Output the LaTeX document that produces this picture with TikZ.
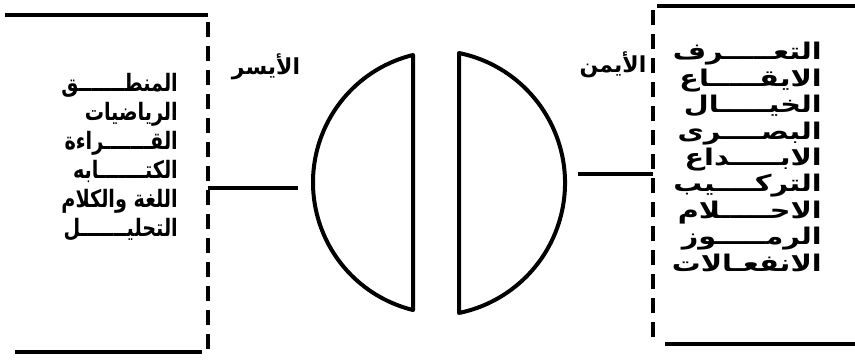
\documentclass[tikz,border=0pt]{standalone}
\usepackage{fontspec}
\newfontfamily\arabicfont[Script=Arabic]{DejaVu Sans}
\newfontfamily\arabicL[Script=Arabic,FakeStretch=0.8]{DejaVu Sans}
\newfontfamily\arabicR[Script=Arabic,FakeStretch=1.25]{DejaVu Sans}
\TeXXeTstate=1
\begin{document}
\begin{tikzpicture}[x=1pt,y=1pt,
  boxline/.style={line width=3.5pt},
  dashline/.style={line width=4pt, dash pattern=on 15pt off 9pt},
  half/.style={line width=4pt, line join=round},
  conn/.style={line width=3.5pt},
  listtext/.style={font=\arabicL\bfseries\fontsize{24}{29}\selectfont, align=right, inner sep=0pt},
  listtextR/.style={font=\arabicR\bfseries\fontsize{23}{26.4}\selectfont, align=right, inner sep=0pt},
  titletext/.style={font=\arabicfont\bfseries\fontsize{22}{24}\selectfont, inner sep=0pt}]
\useasboundingbox (0,0) rectangle (855,-360);
% left box
\draw[boxline] (5,-15) -- (208,-15);
\draw[dashline] (208,-22) -- (208,-355);
\draw[boxline] (15,-352) -- (202,-352);
% right box
\draw[boxline] (657,-6) -- (855,-6);
\draw[dashline] (653,-10) -- (653,-344);
\draw[boxline] (665,-344) -- (855,-344);
% half discs
\draw[half] (413,-55) arc[start angle=103.8,end angle=256.2,radius=131.3] -- cycle;
\draw[half] (459,-53) arc[start angle=78.4,end angle=-78.4,radius=132.7] -- cycle;
% connectors
\coordinate (lA) at (208,-188);
\coordinate (lB) at (298,-188);
\coordinate (rA) at (578,-174);
\coordinate (rB) at (653,-174);
\draw[conn] (lA) -- (lB);
\draw[conn] (rA) -- (rB);
% titles
\node[titletext] (lefttitle) at (266,-67) {\beginR الأيسر\endR};
\node[titletext] (righttitle) at (613,-65) {\beginR الأيمن\endR};
% lists
\node[listtext, anchor=east] (leftlist) at (178,-157) {%
\beginR المنطـــــــق\endR\\
\beginR الرياضيات\endR\\
\beginR القـــــــراءة\endR\\
\beginR الكتـــــــابه\endR\\
\beginR اللغة والكلام\endR\\
\beginR التحليـــــــل\endR};
\node[listtextR, anchor=east] (rightlist) at (822,-157) {%
\beginR التعـــــرف\endR\\
\beginR الايقـــــاع\endR\\
\beginR الخيـــــال\endR\\
\beginR البصــــرى\endR\\
\beginR الابـــــداع\endR\\
\beginR التركــــيب\endR\\
\beginR الاحـــــلام\endR\\
\beginR الرمـــــوز\endR\\
\beginR الانفعـالات\endR};
\end{tikzpicture}
\end{document}
